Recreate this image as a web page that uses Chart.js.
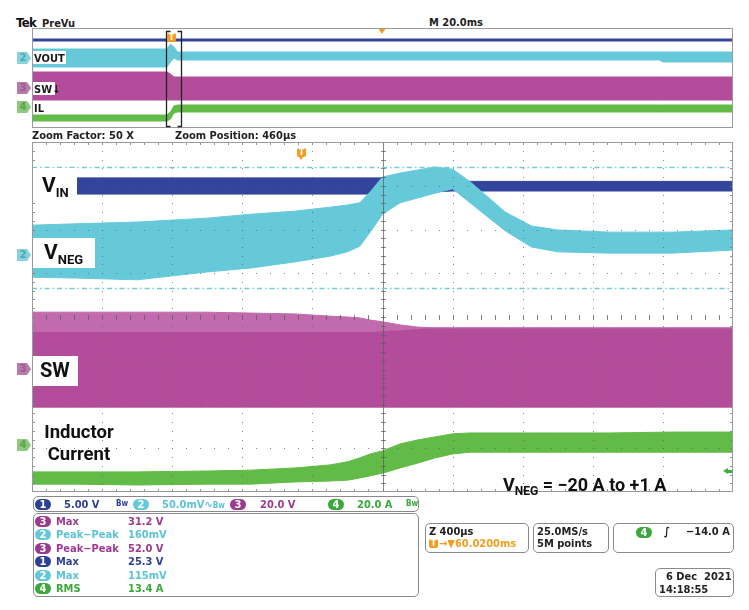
<!DOCTYPE html>
<html>
<head>
<meta charset="utf-8">
<script src="https://cdn.jsdelivr.net/npm/chart.js@4.4.1/dist/chart.umd.min.js"></script>
<style>
  body { margin: 0; background: #fff; width: 749px; height: 610px; overflow: hidden; position: relative;
         font-family: "DejaVu Sans Condensed", "DejaVu Sans", sans-serif; }
  .t { position: absolute; white-space: nowrap; font-weight: bold; font-size: 11px; line-height: 1; color: #222; }
  .lbl { position: absolute; white-space: nowrap; font-family: Roboto, sans-serif; font-weight: 700; line-height: 1; color: #111; }
  .box { position: absolute; background: #fff; }
  .frame { position: absolute; border: 1.5px solid #8a8a8a; border-radius: 5px; box-sizing: border-box; }
  .b { position: absolute; width: 16px; height: 11px; border-radius: 6px; color: #fff; font: bold 10px "DejaVu Sans", sans-serif;
       text-align: center; line-height: 11px; }
  .tab { position: absolute; width: 14px; height: 12px; font: bold 10px "DejaVu Sans", sans-serif; line-height: 12px;
         text-align: center; clip-path: polygon(0 0, 72% 0, 100% 50%, 72% 100%, 0 100%); padding-right: 2px; box-sizing: border-box; }
  canvas { position: absolute; }
</style>
</head>
<body>

<!-- header -->
<div class="t" style="left:16px;top:16px;font-size:13px;letter-spacing:-0.6px;color:#111">Tek</div>
<div class="t" style="left:42px;top:18px;color:#222">PreVu</div>
<div class="t" style="left:429px;top:17px;color:#222">M 20.0ms</div>
<div style="position:absolute;left:378px;top:28px;width:0;height:0;border-left:4px solid transparent;border-right:4px solid transparent;border-top:6px solid #f39c1e"></div>

<canvas id="overview" width="701" height="100" style="left:32px;top:28px"></canvas>

<!-- overview channel labels -->
<div class="tab" style="left:17px;top:52px;background:#86d2df;color:#4ea9b8">2</div>
<div class="box" style="left:33px;top:51px;width:33px;height:13px"></div>
<div class="t" style="left:34px;top:53px;color:#1a1a1a">VOUT</div>
<div class="tab" style="left:17px;top:82px;background:#b97aae;color:#9a5c90">3</div>
<div class="box" style="left:33px;top:82px;width:22px;height:13px"></div>
<div class="t" style="left:34px;top:84px;color:#1a1a1a">SW&#8595;</div>
<div class="tab" style="left:17px;top:101px;background:#8dc97d;color:#5fa24e">4</div>
<div class="t" style="left:34px;top:103px;color:#1a1a1a">IL</div>
<!-- overview trigger -->
<div style="position:absolute;left:167px;top:33px;width:9px;height:9px;background:#f39c1e;border-radius:2px;color:#fff;font:bold 8px 'DejaVu Sans';text-align:center;line-height:9px">T</div>

<div class="t" style="left:32px;top:130px;color:#222">Zoom Factor: 50 X</div>
<div class="t" style="left:175px;top:130px;color:#222">Zoom Position: 460µs</div>

<canvas id="main" width="701" height="350" style="left:32px;top:142px"></canvas>

<!-- main trigger marker -->
<div style="position:absolute;left:297px;top:148px;width:9px;height:9px;background:#f39c1e;border-radius:2px;color:#fff;font:bold 8px 'DejaVu Sans';text-align:center;line-height:9px">T</div>
<div style="position:absolute;left:299px;top:157px;width:0;height:0;border-left:2.5px solid transparent;border-right:2.5px solid transparent;border-top:3px solid #f39c1e"></div>

<!-- main channel markers -->
<div class="tab" style="left:17px;top:249px;background:#86d2df;color:#4ea9b8">2</div>
<div class="tab" style="left:17px;top:363px;background:#b97aae;color:#9a5c90">3</div>
<div class="tab" style="left:17px;top:439px;background:#8dc97d;color:#5fa24e">4</div>
<!-- trigger level arrow -->
<div style="position:absolute;left:723px;top:468px;width:0;height:0;border-top:3.5px solid transparent;border-bottom:3.5px solid transparent;border-right:5px solid #3db03c"></div>
<div style="position:absolute;left:727px;top:470px;width:5px;height:3px;background:#3db03c"></div>

<!-- annotation labels -->
<div class="box" style="left:33px;top:168px;width:44px;height:32px"></div>
<div class="lbl" style="left:42px;top:175px;font-size:21px">V<span style="font-size:13px;vertical-align:-5px">IN</span></div>
<div class="box" style="left:33px;top:238px;width:62px;height:30px"></div>
<div class="lbl" style="left:44px;top:242px;font-size:21px">V<span style="font-size:13px;vertical-align:-5px">NEG</span></div>
<div class="box" style="left:33px;top:356px;width:45px;height:30px"></div>
<div class="lbl" style="left:40px;top:360px;font-size:20px">SW</div>
<div class="lbl" style="left:36px;top:421px;width:86px;font-size:18.5px;text-align:center;line-height:22px">Inductor<br>Current</div>
<div class="lbl" style="left:503px;top:476px;font-size:18px">V<span style="font-size:12px;vertical-align:-4px">NEG</span> = &minus;20 A to +1 A</div>

<!-- channel scale bar -->
<div class="frame" style="left:33px;top:496px;width:386px;height:16px"></div>
<div class="b" style="left:35px;top:499px;background:#2e3f98">1</div>
<div class="t" style="left:64px;top:499px;color:#2e3f98">5.00 V</div>
<div class="t" style="left:116px;top:500px;font-size:8px;color:#2e3f98">Bw</div>
<div class="b" style="left:133px;top:499px;background:#66c9d9">2</div>
<div class="t" style="left:162px;top:499px;color:#5bc3d4">50.0mV&#8767;<span style="font-size:8px">Bw</span></div>
<div class="b" style="left:230px;top:499px;background:#9b3a8e">3</div>
<div class="t" style="left:260px;top:499px;color:#9b3a8e">20.0 V</div>
<div class="b" style="left:328px;top:499px;background:#3aa83a">4</div>
<div class="t" style="left:357px;top:499px;color:#3aa83a">20.0 A</div>
<div class="t" style="left:406px;top:500px;font-size:8px;color:#3aa83a">Bw</div>

<!-- measurements -->
<div class="frame" style="left:33px;top:513px;width:386px;height:84px"></div>
<div class="b" style="left:35px;top:516px;background:#9b3a8e">3</div>
<div class="t" style="left:56px;top:516px;color:#9b3a8e">Max</div>
<div class="t" style="left:128px;top:516px;color:#9b3a8e">31.2 V</div>
<div class="b" style="left:35px;top:529px;background:#66c9d9">2</div>
<div class="t" style="left:56px;top:529px;color:#5bc3d4">Peak&minus;Peak</div>
<div class="t" style="left:128px;top:529px;color:#5bc3d4">160mV</div>
<div class="b" style="left:35px;top:543px;background:#9b3a8e">3</div>
<div class="t" style="left:56px;top:543px;color:#9b3a8e">Peak&minus;Peak</div>
<div class="t" style="left:128px;top:543px;color:#9b3a8e">52.0 V</div>
<div class="b" style="left:35px;top:556px;background:#2e3f98">1</div>
<div class="t" style="left:56px;top:556px;color:#2e3f98">Max</div>
<div class="t" style="left:128px;top:556px;color:#2e3f98">25.3 V</div>
<div class="b" style="left:35px;top:570px;background:#66c9d9">2</div>
<div class="t" style="left:56px;top:570px;color:#5bc3d4">Max</div>
<div class="t" style="left:128px;top:570px;color:#5bc3d4">115mV</div>
<div class="b" style="left:35px;top:583px;background:#3aa83a">4</div>
<div class="t" style="left:56px;top:583px;color:#3aa83a">RMS</div>
<div class="t" style="left:128px;top:583px;color:#3aa83a">13.4 A</div>

<!-- timebase / acquisition / trigger -->
<div class="frame" style="left:425px;top:523px;width:104px;height:30px"></div>
<div class="t" style="left:429px;top:526px;color:#222">Z 400µs</div>
<div style="position:absolute;left:429px;top:539px;width:9px;height:9px;background:#f39c1e;border-radius:2px;color:#fff;font:bold 8px 'DejaVu Sans';text-align:center;line-height:9px">T</div>
<div class="t" style="left:439px;top:538px;color:#f39c1e">&#8594;&#9660;60.0200ms</div>
<div class="frame" style="left:533px;top:523px;width:76px;height:30px"></div>
<div class="t" style="left:537px;top:526px;color:#222">25.0MS/s</div>
<div class="t" style="left:537px;top:538px;color:#222">5M points</div>
<div class="frame" style="left:613px;top:523px;width:121px;height:30px"></div>
<div class="b" style="left:636px;top:527px;background:#3aa83a">4</div>
<div class="t" style="left:664px;top:526px;color:#222;font-style:italic">&#8747;</div>
<div class="t" style="left:686px;top:526px;color:#222">&minus;14.0 A</div>
<div class="frame" style="left:655px;top:568px;width:79px;height:29px"></div>
<div class="t" style="left:666px;top:571px;color:#222">6 Dec&nbsp;&nbsp;2021</div>
<div class="t" style="left:659px;top:584px;color:#222">14:18:55</div>

<script>
// main window: time in µs (400 µs/div), levels in graticule divisions (8 div high)
const t = [0, 250, 600, 1000, 1250, 1500, 1700, 1800, 1870, 1930, 2000, 2100, 2200, 2300, 2400, 2500, 2700, 2850, 3000, 3300, 3650, 4000];

const vnegHi = [6.10, 6.13, 6.17, 6.26, 6.35, 6.42, 6.51, 6.56, 6.61, 6.86, 7.20, 7.29, 7.36, 7.43, 7.38, 7.09, 6.40, 6.08, 5.99, 5.94, 5.94, 5.99];
const vnegLo = [4.91, 4.89, 4.85, 5.03, 5.12, 5.26, 5.39, 5.49, 5.62, 5.94, 6.35, 6.61, 6.72, 6.83, 6.93, 6.61, 5.97, 5.60, 5.49, 5.46, 5.46, 5.53];

const swHi  = [4.11, 4.11, 4.11, 4.11, 4.09, 4.07, 4.02, 4.00, 3.98, 3.93, 3.89, 3.82, 3.77, 3.75, 3.75, 3.75, 3.75, 3.75, 3.75, 3.75, 3.75, 3.75];
const swMid = [3.66, 3.66, 3.66, 3.66, 3.66, 3.66, 3.66, 3.66, 3.66, 3.66, 3.68, 3.70, 3.73, 3.75, 3.75, 3.75, 3.75, 3.75, 3.75, 3.75, 3.75, 3.75];
const swLo  = [1.94, 1.94, 1.94, 1.94, 1.94, 1.94, 1.94, 1.94, 1.94, 1.94, 1.94, 1.94, 1.94, 1.94, 1.94, 1.94, 1.94, 1.94, 1.94, 1.94, 1.94, 1.94];

const ilHi = [0.46, 0.46, 0.46, 0.48, 0.50, 0.55, 0.62, 0.69, 0.78, 0.87, 0.94, 1.10, 1.19, 1.26, 1.33, 1.35, 1.35, 1.35, 1.35, 1.35, 1.37, 1.37];
const ilLo = [0.18, 0.18, 0.16, 0.18, 0.18, 0.23, 0.25, 0.27, 0.32, 0.37, 0.43, 0.55, 0.66, 0.78, 0.87, 0.91, 0.91, 0.91, 0.91, 0.91, 0.91, 0.91];

const tVin  = [0, 2000, 2400, 4000];
const vinHi = [7.18, 7.18, 7.10, 7.10];
const vinLo = [6.81, 6.81, 6.88, 6.88];

const cursorLevels = [7.435, 4.67];

// overview (PreVu): time in ms (20 ms/div)
const ovT       = [0, 38.5, 39.5, 40.5, 41.5, 179, 180, 200];
const ovVin     = [7.04, 7.04, 7.04, 7.04, 7.04, 7.04, 7.04, 7.04];
const ovVoutHi  = [6.32, 6.32, 6.72, 6.48, 6.08, 6.08, 6.08, 6.08];
const ovVoutLo  = [4.88, 4.88, 5.28, 5.60, 5.44, 5.44, 5.28, 5.28];
const ovSwHi    = [4.48, 4.48, 4.32, 4.08, 4.08, 4.08, 4.08, 4.08];
const ovSwLo    = [2.24, 2.24, 2.24, 2.24, 2.24, 2.24, 2.24, 2.24];
const ovIlHi    = [1.04, 1.04, 1.28, 1.76, 1.84, 1.84, 1.84, 1.84];
const ovIlLo    = [0.56, 0.56, 0.72, 1.20, 1.28, 1.28, 1.28, 1.28];
const zoomWindow = [38.2, 42.5];

const BLUE = '#32449c';
const CYAN = '#66c9d9';
const MAGENTA = '#b24c9b';
const MAGENTA_LIGHT = '#c16aae';
const GREEN = '#62bb46';

const pts = (xs, ys) => xs.map((x, i) => ({ x, y: ys[i] }));

// upper edge filled down to the dataset after it
const edge = (xs, ys, color, fillColor) => ({
  data: pts(xs, ys),
  borderColor: color,
  borderWidth: 1,
  backgroundColor: fillColor || color,
  fill: fillColor === null ? false : '+1',
  pointRadius: 0,
  tension: 0
});

const scalesFor = (xmax) => ({
  x: { type: 'linear', min: 0, max: xmax, display: false },
  y: { type: 'linear', min: 0, max: 8, display: false }
});

const baseOptions = (xmax, plugins) => ({
  responsive: false,
  animation: false,
  events: [],
  layout: { padding: 0 },
  scales: scalesFor(xmax),
  plugins: Object.assign({ legend: { display: false }, tooltip: { enabled: false } }, plugins || {})
});

// graticule drawn on top of the traces, like the scope does
const graticule = {
  id: 'graticule',
  afterDatasetsDraw(chart) {
    const { ctx, chartArea: a, scales: { x, y } } = chart;
    const xs = [], ys = [];
    for (let i = 0; i <= 50; i++) xs.push(Math.round(x.getPixelForValue(i * 80)));
    for (let j = 0; j <= 40; j++) ys.push(Math.round(y.getPixelForValue(j / 5)));
    ctx.save();
    ctx.fillStyle = 'rgba(95,95,95,0.75)';
    for (let i = 5; i < 50; i += 5) ys.forEach(py => ctx.fillRect(xs[i], py, 1, 1));
    for (let j = 5; j < 40; j += 5) xs.forEach(px => ctx.fillRect(px, ys[j], 1, 1));
    // centre cross ticks
    const cx = xs[25], cy = ys[20];
    ys.forEach(py => ctx.fillRect(cx - 2, py, 5, 1));
    xs.forEach(px => ctx.fillRect(px, cy - 2, 1, 5));
    ctx.fillRect(cx, a.top, 1, a.bottom - a.top);
    // edge ticks
    ctx.fillStyle = 'rgba(120,120,120,0.8)';
    ys.forEach(py => { ctx.fillRect(a.left, py, 3, 1); ctx.fillRect(a.right - 3, py, 3, 1); });
    xs.forEach(px => { ctx.fillRect(px, a.top, 1, 3); ctx.fillRect(px, a.bottom - 3, 1, 3); });
    // cursor lines
    ctx.strokeStyle = '#6fcbd9';
    ctx.lineWidth = 1.5;
    ctx.setLineDash([5, 3, 1.5, 3]);
    cursorLevels.forEach(v => {
      const py = Math.round(y.getPixelForValue(v)) + 0.5;
      ctx.beginPath(); ctx.moveTo(a.left, py); ctx.lineTo(a.right, py); ctx.stroke();
    });
    ctx.setLineDash([]);
    // frame
    ctx.strokeStyle = '#9a9a9a';
    ctx.lineWidth = 1;
    ctx.strokeRect(a.left + 0.5, a.top + 0.5, a.right - a.left - 1, a.bottom - a.top - 1);
    ctx.restore();
  }
};

const overviewFrame = {
  id: 'overviewFrame',
  afterDatasetsDraw(chart) {
    const { ctx, chartArea: a, scales: { x } } = chart;
    ctx.save();
    ctx.strokeStyle = '#9a9a9a';
    ctx.lineWidth = 1;
    ctx.strokeRect(a.left + 0.5, a.top + 0.5, a.right - a.left - 1, a.bottom - a.top - 1);
    // zoom window brackets
    const x0 = Math.round(x.getPixelForValue(zoomWindow[0])) + 0.5;
    const x1 = Math.round(x.getPixelForValue(zoomWindow[1])) + 0.5;
    const top = a.top + 3.5, bot = a.bottom - 1.5;
    ctx.strokeStyle = '#222';
    ctx.lineWidth = 1.3;
    ctx.beginPath();
    ctx.moveTo(x0 + 4, top); ctx.lineTo(x0, top); ctx.lineTo(x0, bot); ctx.lineTo(x0 + 4, bot);
    ctx.moveTo(x1 - 4, top); ctx.lineTo(x1, top); ctx.lineTo(x1, bot); ctx.lineTo(x1 - 4, bot);
    ctx.stroke();
    ctx.restore();
  }
};

new Chart(document.getElementById('main'), {
  type: 'line',
  data: {
    datasets: [
      edge(t, vnegHi, CYAN),
      edge(t, vnegLo, CYAN, null),
      edge(tVin, vinHi, BLUE),
      edge(tVin, vinLo, BLUE, null),
      edge(t, swHi, MAGENTA_LIGHT, MAGENTA_LIGHT),
      edge(t, swMid, MAGENTA),
      edge(t, swLo, MAGENTA, null),
      edge(t, ilHi, GREEN),
      edge(t, ilLo, GREEN, null)
    ]
  },
  options: baseOptions(4000),
  plugins: [graticule]
});

const ovVinLine = edge(ovT, ovVin, BLUE, null);
ovVinLine.borderWidth = 3;

new Chart(document.getElementById('overview'), {
  type: 'line',
  data: {
    datasets: [
      ovVinLine,
      edge(ovT, ovVoutHi, CYAN),
      edge(ovT, ovVoutLo, CYAN, null),
      edge(ovT, ovSwHi, MAGENTA),
      edge(ovT, ovSwLo, MAGENTA, null),
      edge(ovT, ovIlHi, GREEN),
      edge(ovT, ovIlLo, GREEN, null)
    ]
  },
  options: baseOptions(200),
  plugins: [overviewFrame]
});
</script>
</body>
</html>
